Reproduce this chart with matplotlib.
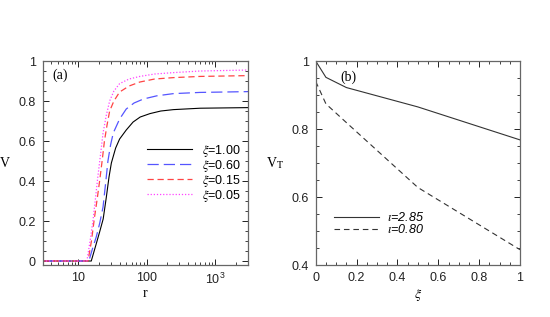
import matplotlib
matplotlib.use("Agg")
import matplotlib.pyplot as plt
from matplotlib.ticker import MultipleLocator, LogLocator, FuncFormatter, NullFormatter

plt.rcParams['font.family'] = 'Liberation Sans'
plt.rcParams['mathtext.fontset'] = 'stix'

# panel (a): V vs r for several xi
r_10 = [3, 15.4, 18, 20.4, 23, 25.6, 28, 30.3, 35, 40, 50, 63, 80, 111, 160, 245, 600, 3000]
v_10 = [0, 0, 0.08, 0.145, 0.21, 0.32, 0.42, 0.49, 0.565, 0.61, 0.655, 0.695, 0.72, 0.737, 0.75, 0.757, 0.764, 0.767]
r_06 = [3, 14.2, 16, 18.2, 20.5, 22.9, 25, 27, 29.5, 32.3, 40, 50, 65, 89, 140, 245, 600, 3000]
v_06 = [0, 0, 0.06, 0.12, 0.19, 0.27, 0.39, 0.5, 0.58, 0.64, 0.71, 0.76, 0.79, 0.81, 0.826, 0.837, 0.843, 0.847]
r_015 = [3, 13.8, 15.5, 17.2, 18.8, 20.4, 22.2, 24, 26.2, 28.6, 33, 40, 55, 79, 130, 245, 600, 3000]
v_015 = [0, 0, 0.1, 0.22, 0.31, 0.40, 0.50, 0.60, 0.68, 0.75, 0.80, 0.845, 0.875, 0.895, 0.91, 0.917, 0.923, 0.927]
r_005 = [3, 13.3, 14.8, 16.3, 17.7, 19.2, 21, 22.9, 25.6, 28.6, 33, 40, 55, 79, 130, 245, 600, 3000]
v_005 = [0, 0, 0.1, 0.20, 0.31, 0.42, 0.53, 0.64, 0.73, 0.80, 0.85, 0.887, 0.91, 0.923, 0.935, 0.942, 0.95, 0.955]

# panel (b): V_T vs xi
xi_b = [0, 0.05, 0.15, 0.5, 1.0]
vt_285 = [1.0, 0.952, 0.922, 0.865, 0.768]
vt_080 = [0.94, 0.874, 0.819, 0.628, 0.445]

fig = plt.figure(figsize=(5.5, 3.17), dpi=100)
ax1 = fig.add_axes([0.0776, 0.164, 0.373, 0.6435])
ax2 = fig.add_axes([0.574, 0.164, 0.3715, 0.6435])

for ax in (ax1, ax2):
    ax.tick_params(which='both', direction='in', top=True, right=True,
                   labelsize=9, colors='#222222', pad=5)
    ax.tick_params(which='major', length=4, width=0.7)
    ax.tick_params(which='minor', length=2, width=0.6)
    for s in ax.spines.values():
        s.set_color('#666666')
        s.set_linewidth(0.9)

# --- (a)
ax1.plot(r_10, v_10, color='black', lw=0.8, label=r'$\xi$=1.00')
ax1.plot(r_06, v_06, color='#5555ff', lw=0.9, dashes=(9, 4), label=r'$\xi$=0.60')
ax1.plot(r_015, v_015, color='#ff4444', lw=0.9, dashes=(5, 3), label=r'$\xi$=0.15')
ax1.plot(r_005, v_005, color='#ff44ff', lw=0.9, dashes=(1, 1.5), label=r'$\xi$=0.05')
ax1.set_xscale('log')
ax1.set_xlim(3, 3000)
ax1.set_ylim(-0.02, 1)
ax1.xaxis.set_major_locator(LogLocator(base=10, numticks=10))
ax1.xaxis.set_minor_locator(LogLocator(base=10, subs=range(2, 10), numticks=20))
ax1.xaxis.set_minor_formatter(NullFormatter())
ax1.xaxis.set_major_formatter(FuncFormatter(
    lambda v, p: {10: '10', 100: '100', 1000: r'$\mathregular{10^3}$'}.get(int(round(v)), '')))
ax1.yaxis.set_major_locator(MultipleLocator(0.2))
ax1.yaxis.set_minor_locator(MultipleLocator(0.05))
ax1.yaxis.set_major_formatter(FuncFormatter(lambda v, p: '%g' % round(v, 2)))
ax1.set_xlabel('r', family='Liberation Serif', fontsize=10, labelpad=0)
ax1.set_ylabel('V', family='Liberation Serif', fontsize=10, rotation=0, labelpad=10, va='center')
ax1.text(0.045, 0.93, '(a)', transform=ax1.transAxes, family='Liberation Serif',
         fontsize=10, va='center')
ax1.legend(loc='upper left', bbox_to_anchor=(0.48, 0.63), frameon=False, fontsize=9,
           handlelength=3.6, handletextpad=0.8, labelspacing=-0.08, borderpad=0)

# --- (b)
ax2.plot(xi_b, vt_285, color='#333333', lw=0.8, label=r'$\iota$=2.85')
ax2.plot(xi_b, vt_080, color='#333333', lw=0.8, dashes=(5, 3.5), label=r'$\iota$=0.80')
ax2.set_xlim(0, 1)
ax2.set_ylim(0.4, 1)
ax2.xaxis.set_major_locator(MultipleLocator(0.2))
ax2.xaxis.set_minor_locator(MultipleLocator(0.05))
ax2.yaxis.set_major_locator(MultipleLocator(0.2))
ax2.yaxis.set_minor_locator(MultipleLocator(0.05))
fmt = FuncFormatter(lambda v, p: '%g' % round(v, 2))
ax2.xaxis.set_major_formatter(fmt)
ax2.yaxis.set_major_formatter(fmt)
ax2.set_xlabel(r'$\xi$', fontsize=10, labelpad=2)
ax2.set_ylabel(r'V$_\mathrm{T}$', family='Liberation Serif', fontsize=10, rotation=0,
               labelpad=12, va='center')
ax2.text(0.12, 0.92, '(b)', transform=ax2.transAxes, family='Liberation Serif',
         fontsize=10, va='center')
leg = ax2.legend(loc='upper left', bbox_to_anchor=(0.06, 0.295), frameon=False, fontsize=9,
                 handlelength=3.6, handletextpad=0.6, labelspacing=-0.08, borderpad=0)
for t in leg.get_texts():
    t.set_style('italic')

fig.savefig('out.png', dpi=100)
